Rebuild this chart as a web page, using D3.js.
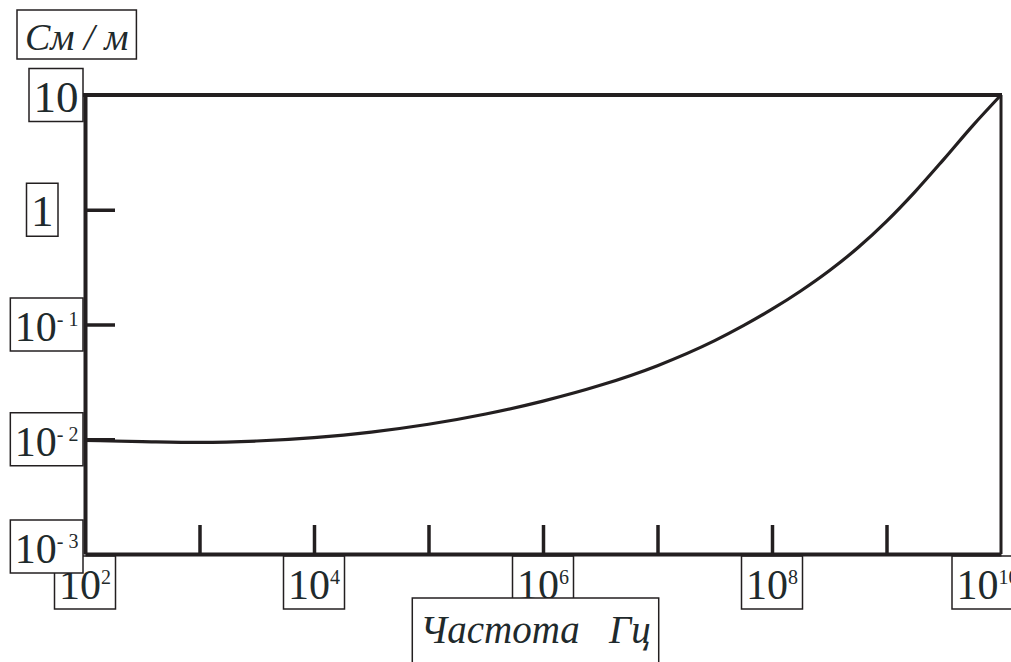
<!DOCTYPE html>
<html>
<head>
<meta charset="utf-8">
<script src="https://cdn.jsdelivr.net/npm/d3@7"></script>
<style>
  body { margin: 0; background: #fff; }
  svg text { font-family: "Liberation Serif", "Times New Roman", serif; fill: #1f2a2c; }
</style>
</head>
<body>
<svg id="chart" width="1011" height="662"></svg>
<script>
// conductivity vs frequency
var freqHz = [1e2, 3.16e2, 1e3, 3.16e3, 1e4, 3.16e4, 1e5, 3.16e5, 1e6, 3.16e6, 1e7,
              3.16e7, 5.62e7, 1e8, 1.78e8, 3.16e8, 5.62e8, 1e9, 1.78e9, 3.16e9, 5.62e9, 1e10];
var conductivity = [0.00977, 0.00955, 0.0094, 0.00965, 0.01034, 0.01154, 0.0135, 0.0166, 0.0215, 0.0295, 0.0438,
                    0.0723, 0.0976, 0.136, 0.196, 0.294, 0.466, 0.792, 1.44, 2.75, 5.36, 10];

var xTickValues = [1e3, 1e4, 1e5, 1e6, 1e7, 1e8, 1e9];
var xLabelValues = [1e2, 1e4, 1e6, 1e8, 1e10];
var xLabelPowers = ["2", "4", "6", "8", "10"];
var yTickValues = [1, 0.1, 0.01];
var yLabelValues = [10, 1, 0.1, 0.01, 0.001];
var yLabelBase = ["10", "1", "10", "10", "10"];
var yLabelPowers = ["", "", "- 1", "- 2", "- 3"];
var yTitle = "См / м";
var xTitle = "Частота\u00a0\u00a0 Гц";

var ink = "#231f20";
var svg = d3.select("#chart");

var x = d3.scaleLog().domain([1e2, 1e10]).range([85, 1001]);
var y = d3.scaleLog().domain([1e-3, 10]).range([554, 95]);

// boxed label: text with optional superscript, white box around it
function boxLabel(base, pow, size) {
  var g = svg.append("g");
  var t = g.append("text").attr("x", 0).attr("y", 0)
    .style("font-size", size + "px");
  t.append("tspan").text(base);
  if (pow) {
    t.append("tspan").attr("dy", -15).style("font-size", "20px").text(pow);
  }
  var w = t.node().getBBox().width;
  var pad = 4.5;
  g.insert("rect", "text")
    .attr("x", -pad).attr("y", -43)
    .attr("width", w + 2 * pad).attr("height", 53)
    .attr("fill", "#fff").attr("stroke", ink).attr("stroke-width", 1.5);
  g.boxW = w + 2 * pad;
  g.pad = pad;
  return g;
}

// x labels (under the axis)
xLabelValues.forEach(function(v, i) {
  var g = boxLabel("10", xLabelPowers[i], 42);
  var left = Math.min(x(v) - g.boxW / 2, 1023 - g.boxW);
  g.attr("transform", "translate(" + (left + g.pad) + "," + 599 + ")");
});

// axis title, bottom
var xt = svg.append("g");
var xtText = xt.append("text").style("font-size", "39px").style("font-style", "italic").text(xTitle);
var xtW = xtText.node().getBBox().width;
xt.insert("rect", "text").attr("x", -8).attr("y", -45).attr("width", xtW + 16).attr("height", 90)
  .attr("fill", "#fff").attr("stroke", ink).attr("stroke-width", 1.5);
xt.attr("transform", "translate(" + (x(1e6) - 7.5 - xtW / 2) + ",643)");

// y labels (left of the axis)
yLabelValues.forEach(function(v, i) {
  var g = boxLabel(yLabelBase[i], yLabelPowers[i], yLabelPowers[i] ? 42 : 45);
  var right = (v === 1) ? 58 : 83;
  var base = Math.min(y(v) + 16.5, 563);
  g.attr("transform", "translate(" + (right - g.boxW + g.pad) + "," + base + ")");
});

// axis title, top
var yt = svg.append("g");
var ytText = yt.append("text").style("font-size", "38px").style("font-style", "italic").text(yTitle);
var ytW = ytText.node().getBBox().width;
yt.insert("rect", "text").attr("x", -8).attr("y", -40).attr("width", ytW + 16).attr("height", 49)
  .attr("fill", "#fff").attr("stroke", ink).attr("stroke-width", 1.5);
yt.attr("transform", "translate(25,50)");

// axes
var xAxis = d3.axisBottom(x).tickValues(xTickValues).tickSize(-29).tickSizeOuter(0).tickFormat("");
var yAxis = d3.axisLeft(y).tickValues(yTickValues).tickSize(-30).tickSizeOuter(0).tickFormat("");

var gx = svg.append("g").attr("transform", "translate(0," + y.range()[0] + ")").call(xAxis);
var gy = svg.append("g").attr("transform", "translate(" + x.range()[0] + ",0)").call(yAxis);
[gx, gy].forEach(function(g) {
  g.select(".domain").attr("stroke", ink).attr("stroke-width", 4);
  g.selectAll(".tick line").attr("stroke", ink).attr("stroke-width", 3.5);
});

// top and right frame
svg.append("line")
  .attr("x1", x.range()[0] - 2).attr("x2", x.range()[1] + 1)
  .attr("y1", y(10)).attr("y2", y(10))
  .attr("stroke", ink).attr("stroke-width", 4);
svg.append("line")
  .attr("x1", x(1e10)).attr("x2", x(1e10))
  .attr("y1", y(10)).attr("y2", y(1e-3))
  .attr("stroke", ink).attr("stroke-width", 3);

// curve
var line = d3.line()
  .x(function(d, i) { return x(freqHz[i]); })
  .y(function(d) { return y(d); })
  .curve(d3.curveMonotoneX);

svg.append("path")
  .attr("d", line(conductivity))
  .attr("fill", "none")
  .attr("stroke", ink)
  .attr("stroke-width", 3.2);
</script>
</body>
</html>
